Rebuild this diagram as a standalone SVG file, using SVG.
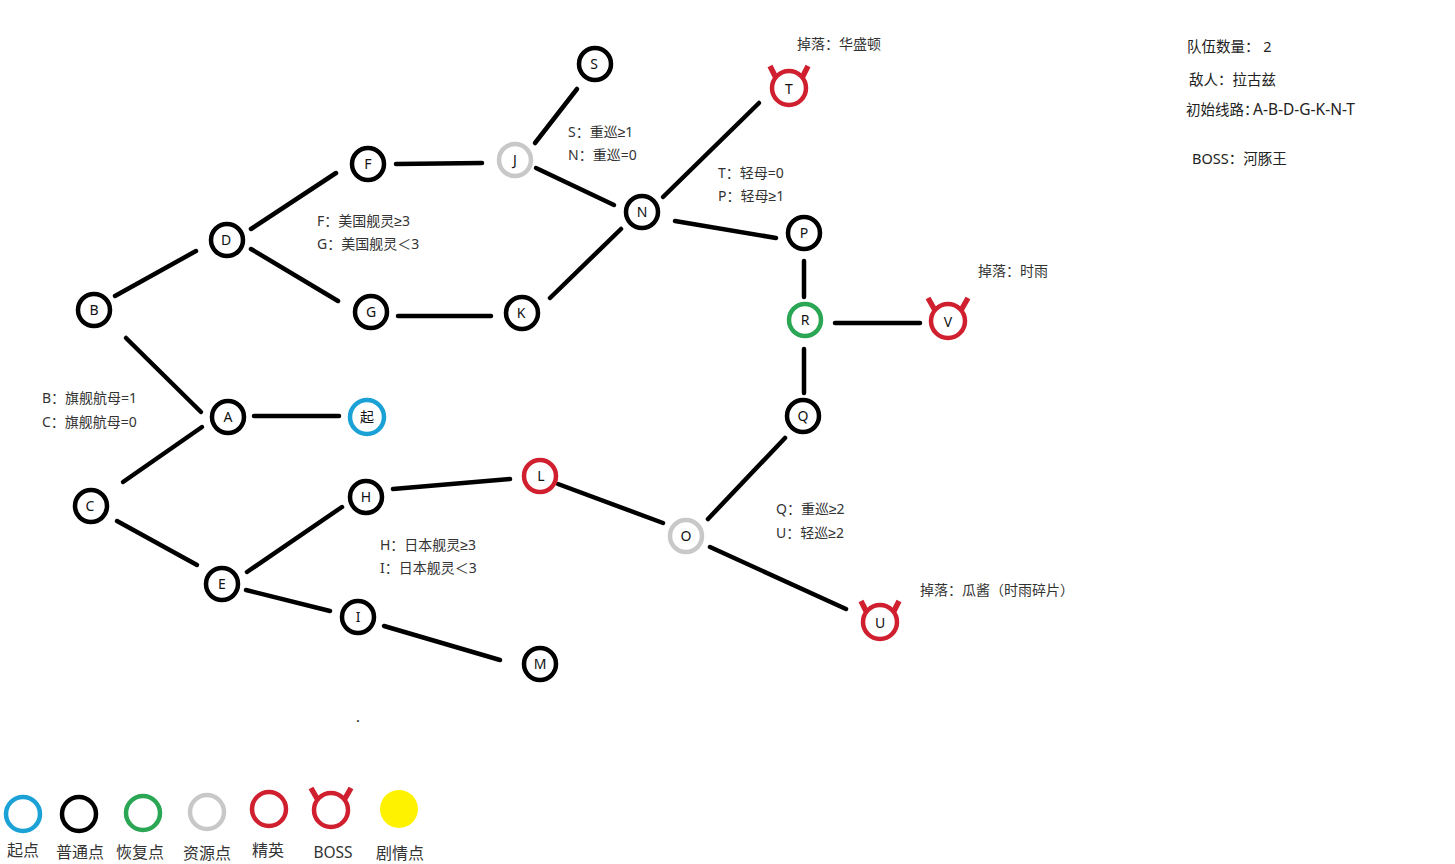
<svg xmlns="http://www.w3.org/2000/svg" width="1455" height="864" viewBox="0 0 1455 864">
<style>
text{font-family:"Noto Sans","Liberation Sans","Noto Sans CJK SC",sans-serif;font-size:14.5px;fill:#222}
.n text{text-anchor:middle;font-size:14px;fill:#111}
.l{font-size:14px;fill:#333}
.lg{font-size:16px;text-anchor:middle;fill:#333}
.c{fill:#fff;stroke-width:4.5}
.k{stroke:#000}.r{stroke:#d0202f}.g{stroke:#2aa654}.s{stroke:#c8c8c8}.b{stroke:#1aa1d6}
#connectors path{stroke:#000;stroke-width:4.5;stroke-linecap:round;fill:none}
.h{fill:none;stroke:#d0202f;stroke-width:5.5}
</style>
<rect width="1455" height="864" fill="#fff"/>
<g id="connectors">
<path d="M115 296L196 251"/><path d="M126 338L201 412"/><path d="M123 482L202 427"/><path d="M117 521L197 565"/>
<path d="M251 229L336 173"/><path d="M251 249L338 301"/><path d="M254 416L339 416"/>
<path d="M247 572L342 507"/><path d="M246 590L330 611"/><path d="M384 626L500 660"/>
<path d="M396 164L482 163"/><path d="M398 316L491 316"/><path d="M535 143L577 89"/><path d="M536 168L614 205"/>
<path d="M550 298L621 229"/><path d="M663 197L759 103"/><path d="M675 221L776 238"/>
<path d="M393 489L510 479"/><path d="M558 484L663 523"/><path d="M708 519L785 438"/><path d="M710 547L846 609"/>
<path d="M804 261L804 297"/><path d="M804 349L804 393"/><path d="M835 323L920 323"/>
</g>
<g class="n">
<g id="node-B"><circle class="c k" cx="94" cy="310" r="16"/><text x="94" y="315">B</text></g>
<g id="node-C"><circle class="c k" cx="91" cy="506" r="16"/><text x="90" y="511">C</text></g>
<g id="node-A"><circle class="c k" cx="228" cy="417" r="16"/><text x="228" y="422">A</text></g>
<g id="node-start"><circle class="c b" cx="367" cy="417" r="17"/><text x="367" y="422">起</text></g>
<g id="node-D"><circle class="c k" cx="227" cy="240" r="16"/><text x="226" y="245">D</text></g>
<g id="node-E"><circle class="c k" cx="222" cy="584" r="16"/><text x="222" y="589">E</text></g>
<g id="node-F"><circle class="c k" cx="368" cy="164" r="16"/><text x="368" y="169">F</text></g>
<g id="node-G"><circle class="c k" cx="371" cy="312" r="16"/><text x="371" y="317">G</text></g>
<g id="node-H"><circle class="c k" cx="366" cy="497" r="16"/><text x="366" y="502">H</text></g>
<g id="node-I"><circle class="c k" cx="358" cy="617" r="16"/><text x="358" y="622">I</text></g>
<g id="node-J"><circle class="c s" cx="515" cy="160" r="16"/><text x="515" y="165">J</text></g>
<g id="node-K"><circle class="c k" cx="522" cy="313" r="16"/><text x="521" y="318">K</text></g>
<g id="node-L"><circle class="c r" cx="540" cy="476" r="16"/><text x="541" y="481">L</text></g>
<g id="node-M"><circle class="c k" cx="540" cy="664" r="16"/><text x="540" y="669">M</text></g>
<g id="node-N"><circle class="c k" cx="642" cy="212" r="16"/><text x="642" y="217">N</text></g>
<g id="node-O"><circle class="c s" cx="686" cy="536" r="16"/><text x="686" y="541">O</text></g>
<g id="node-P"><circle class="c k" cx="804" cy="233" r="16"/><text x="804" y="238">P</text></g>
<g id="node-Q"><circle class="c k" cx="803" cy="416" r="16"/><text x="803" y="421">Q</text></g>
<g id="node-R"><circle class="c g" cx="805" cy="320" r="16"/><text x="805" y="325">R</text></g>
<g id="node-S"><circle class="c k" cx="595" cy="64" r="16"/><text x="594" y="69">S</text></g>
<g id="node-T"><path class="h" d="M770 66L777 80M808 66L801 80"/><circle class="c r" cx="789" cy="88" r="17"/><text x="789" y="94">T</text></g>
<g id="node-U"><path class="h" d="M861 601L868 615M899 601L892 615"/><circle class="c r" cx="880" cy="622" r="17"/><text x="880" y="628">U</text></g>
<g id="node-V"><path class="h" d="M928 298L936 312M968 298L960 312"/><circle class="c r" cx="948" cy="321" r="17"/><text x="948" y="327">V</text></g>
</g>
<g id="labels">
<text class="l" x="797" y="49">掉落：华盛顿</text>
<text class="l" x="978" y="276">掉落：时雨</text>
<text class="l" x="920" y="595">掉落：瓜酱（时雨碎片）</text>
<text class="l" x="568" y="137">S：重巡≥1</text><text class="l" x="568" y="160">N：重巡=0</text>
<text class="l" x="718" y="178">T：轻母=0</text><text class="l" x="718" y="201">P：轻母≥1</text>
<text class="l" x="317" y="226">F：美国舰灵≥3</text><text class="l" x="317" y="249">G：美国舰灵＜3</text>
<text class="l" x="42" y="403">B：旗舰航母=1</text><text class="l" x="42" y="427">C：旗舰航母=0</text>
<text class="l" x="380" y="550">H：日本舰灵≥3</text><text class="l" x="380" y="573">I：日本舰灵＜3</text>
<text class="l" x="776" y="514">Q：重巡≥2</text><text class="l" x="776" y="538">U：轻巡≥2</text>
<text x="1187" y="52">队伍数量： 2</text><text x="1189" y="85">敌人：拉古兹</text>
<text x="1186" y="115">初始线路：<tspan x="1253" style="font-size:15.5px">A-B-D-G-K-N-T</tspan></text><text x="1192" y="164">BOSS：河豚王</text>
<text x="356" y="722" font-size="6">.</text>
</g>
<g id="legend">
<circle class="c b" cx="23" cy="814" r="17"/><circle class="c k" cx="79" cy="814" r="17"/><circle class="c g" cx="143" cy="813" r="17"/><circle class="c s" cx="207" cy="812" r="17"/><circle class="c r" cx="269" cy="809" r="17"/>
<path class="h" d="M311 788L319 802M351 788L343 802"/><circle class="c r" cx="331" cy="810" r="17"/>
<circle cx="399" cy="809" r="19" fill="#fff200"/>
<text class="lg" x="23" y="856">起点</text><text class="lg" x="80" y="858">普通点</text><text class="lg" x="140" y="858">恢复点</text><text class="lg" x="207" y="859">资源点</text><text class="lg" x="268" y="856">精英</text><text class="lg" x="333" y="858" style="font-size:15.5px">BOSS</text><text class="lg" x="400" y="859">剧情点</text>
</g>
</svg>
